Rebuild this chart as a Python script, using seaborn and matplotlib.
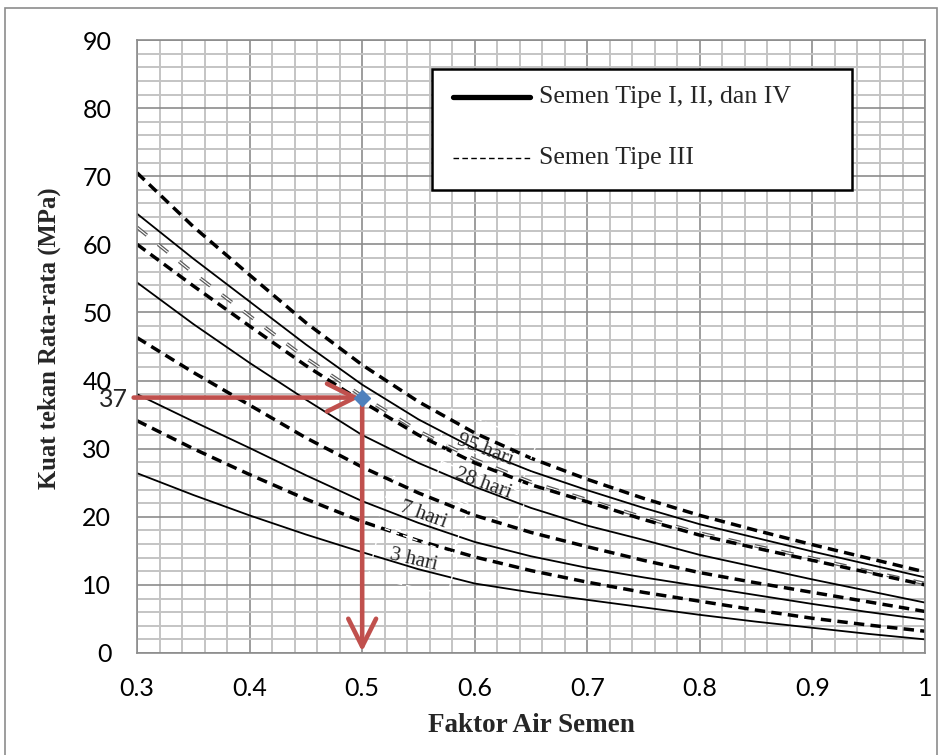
import numpy as np
import pandas as pd
import matplotlib.pyplot as plt
import matplotlib.patches as mpatches
import matplotlib.lines as mlines
from matplotlib.ticker import MultipleLocator
import seaborn as sns

# faktor air semen (sumbu x)
fas = [0.30, 0.35, 0.40, 0.45, 0.50, 0.55, 0.60, 0.65, 0.70, 0.75, 0.80, 0.85, 0.90, 0.95, 1.00]

# Semen Tipe I, II, dan IV (garis penuh)
tipe1_3 = [26.4, 23.2, 20.2, 17.4, 14.8, 12.3, 10.2, 8.9, 7.8, 6.7, 5.6, 4.6, 3.7, 2.8, 2.0]
tipe1_7 = [38.0, 34.0, 30.1, 26.1, 22.3, 19.1, 16.3, 14.2, 12.5, 11.1, 9.8, 8.5, 7.2, 6.0, 4.9]
tipe1_28 = [54.4, 48.3, 42.6, 37.2, 32.0, 27.9, 24.4, 21.3, 18.7, 16.6, 14.4, 12.6, 10.8, 9.1, 7.4]
tipe1_95 = [64.5, 57.9, 51.6, 45.3, 39.4, 34.3, 30.0, 26.7, 23.9, 21.3, 18.9, 16.9, 14.9, 13.0, 11.1]

# Semen Tipe III (garis putus-putus)
tipe3_3 = [34.1, 30.0, 26.2, 22.6, 19.3, 16.5, 14.1, 12.1, 10.4, 8.9, 7.6, 6.3, 5.1, 4.1, 3.2]
tipe3_7 = [46.3, 41.2, 36.4, 31.6, 27.3, 23.5, 20.2, 17.7, 15.6, 13.6, 11.8, 10.3, 8.9, 7.5, 6.1]
tipe3_28 = [60.0, 53.9, 48.0, 42.2, 36.9, 32.0, 27.9, 24.7, 22.2, 19.6, 17.3, 15.4, 13.6, 11.8, 10.0]
tipe3_95 = [70.5, 62.6, 55.5, 48.5, 42.3, 36.9, 32.3, 28.6, 25.5, 22.7, 20.2, 18.0, 15.9, 13.9, 11.9]

# garis ganda abu-abu
garis_ganda = [62.5, 55.8, 49.5, 43.3, 37.7, 32.6, 28.4, 25.1, 22.5, 19.9, 17.6, 15.7, 13.9, 12.0, 10.2]

# titik yang dibaca
fas_titik = 0.5
kuat_titik = 37.5

x_ticks = [0.3, 0.4, 0.5, 0.6, 0.7, 0.8, 0.9, 1.0]
x_ticklabels = ['0.3', '0.4', '0.5', '0.6', '0.7', '0.8', '0.9', '1']
y_ticks = [0, 10, 20, 30, 40, 50, 60, 70, 80, 90]

sns.set_style('white')
plt.rcParams['font.family'] = ['Lato', 'DejaVu Sans']

fig = plt.figure(figsize=(9.47, 7.55), dpi=100)
ax = fig.add_axes([0.1447, 0.1351, 0.8321, 0.8119])

# bingkai luar
fig.patches.append(mpatches.Rectangle((0.0053, -0.05), 0.984, 1.0394, transform=fig.transFigure,
                                      fill=False, edgecolor='#8c8c8c', lw=1.2))

solid = [tipe1_3, tipe1_7, tipe1_28, tipe1_95]
dashed = [tipe3_3, tipe3_7, tipe3_28, tipe3_95]

for vals in solid:
    sns.lineplot(x=fas, y=vals, ax=ax, color='black', lw=1.3)

# garis ganda: abu-abu dengan garis putih di tengah
sns.lineplot(x=fas, y=garis_ganda, ax=ax, color='#5a5a5a', lw=2.6, linestyle=(0, (3.5, 4)))
sns.lineplot(x=fas, y=garis_ganda, ax=ax, color='white', lw=0.8, linestyle=(0, (11.375, 13)))

for vals in dashed:
    sns.lineplot(x=fas, y=vals, ax=ax, color='black', lw=2.5, linestyle=(0, (3, 1.8)))

ax.set_xlim(0.3, 1.0)
ax.set_ylim(0, 90)
ax.set_xticks(x_ticks)
ax.set_xticklabels(x_ticklabels)
ax.set_yticks(y_ticks)
ax.xaxis.set_minor_locator(MultipleLocator(0.02))
ax.yaxis.set_minor_locator(MultipleLocator(2))
ax.set_axisbelow(True)
ax.grid(which='minor', color='#c4c4c4', lw=1.4)
ax.grid(which='major', color='#8c8c8c', lw=1.2)
ax.tick_params(which='minor', length=0)
ax.tick_params(which='major', length=6.5, width=1, color='#8c8c8c', labelsize=18, labelcolor='black')
ax.tick_params(axis='y', pad=12)
ax.tick_params(axis='x', pad=11)
for sp in ax.spines.values():
    sp.set_color('#8c8c8c')
    sp.set_linewidth(1.2)

ax.set_xlabel('Faktor Air Semen', family='Liberation Serif', fontweight='bold', fontsize=19.5, va='center')
ax.xaxis.set_label_coords(0.5, -0.1175)
ax.set_ylabel('Kuat tekan Rata-rata (MPa)', family='Liberation Serif', fontweight='bold', fontsize=17.8,
              va='center')
ax.yaxis.set_label_coords(-0.1117, 0.514)

# label umur
box = dict(boxstyle='square,pad=0.8', fc='none', ec='white', ls=(0, (4, 3)), lw=1)
for txt, xx, yy, rot in [('95 hari', 0.609, 29.8, -21), ('28 hari', 0.607, 24.9, -20),
                         ('7 hari', 0.554, 20.3, -20), ('3 hari', 0.546, 13.6, -13)]:
    ax.text(xx, yy, txt, family='Liberation Serif', fontsize=15, rotation=rot,
            ha='center', va='center', rotation_mode='anchor', bbox=box)

# legenda
ax.add_patch(mpatches.Rectangle((0.562, 68.0), 0.373, 17.8, fc='white', ec='black', lw=1.8, zorder=5))
ax.add_line(mlines.Line2D([0.581, 0.649], [81.6, 81.6], color='black', lw=3.8, zorder=6))
ax.add_line(mlines.Line2D([0.581, 0.649], [72.7, 72.7], color='black', lw=1.0,
                          linestyle=(0, (4, 2.4)), zorder=6))
ax.text(0.657, 81.6, 'Semen Tipe I, II, dan IV', family='Liberation Serif', fontsize=18.5,
        va='center', ha='left', zorder=7)
ax.text(0.657, 72.7, 'Semen Tipe III', family='Liberation Serif', fontsize=18.5,
        va='center', ha='left', zorder=7)

# panah pembacaan
red = '#c0504d'
ax.annotate('', xy=(fas_titik - 0.002, kuat_titik), xytext=(0.297, kuat_titik),
            arrowprops=dict(arrowstyle='->,head_length=1.0,head_width=0.5', color=red, lw=3.3,
                            mutation_scale=20, shrinkA=0, shrinkB=0),
            annotation_clip=False, zorder=8)
ax.annotate('', xy=(fas_titik, 0.2), xytext=(fas_titik, kuat_titik - 0.3),
            arrowprops=dict(arrowstyle='->,head_length=1.0,head_width=0.5', color=red, lw=3.3,
                            mutation_scale=20, shrinkA=0, shrinkB=0),
            annotation_clip=False, zorder=8)
ax.plot([fas_titik], [kuat_titik], marker='D', ms=8, color='#4f81bd', zorder=9)
ax.text(-0.012, kuat_titik - 0.3, '37', transform=ax.get_yaxis_transform(), ha='right', va='center',
        fontsize=18)

fig.savefig('out.png', dpi=100)
